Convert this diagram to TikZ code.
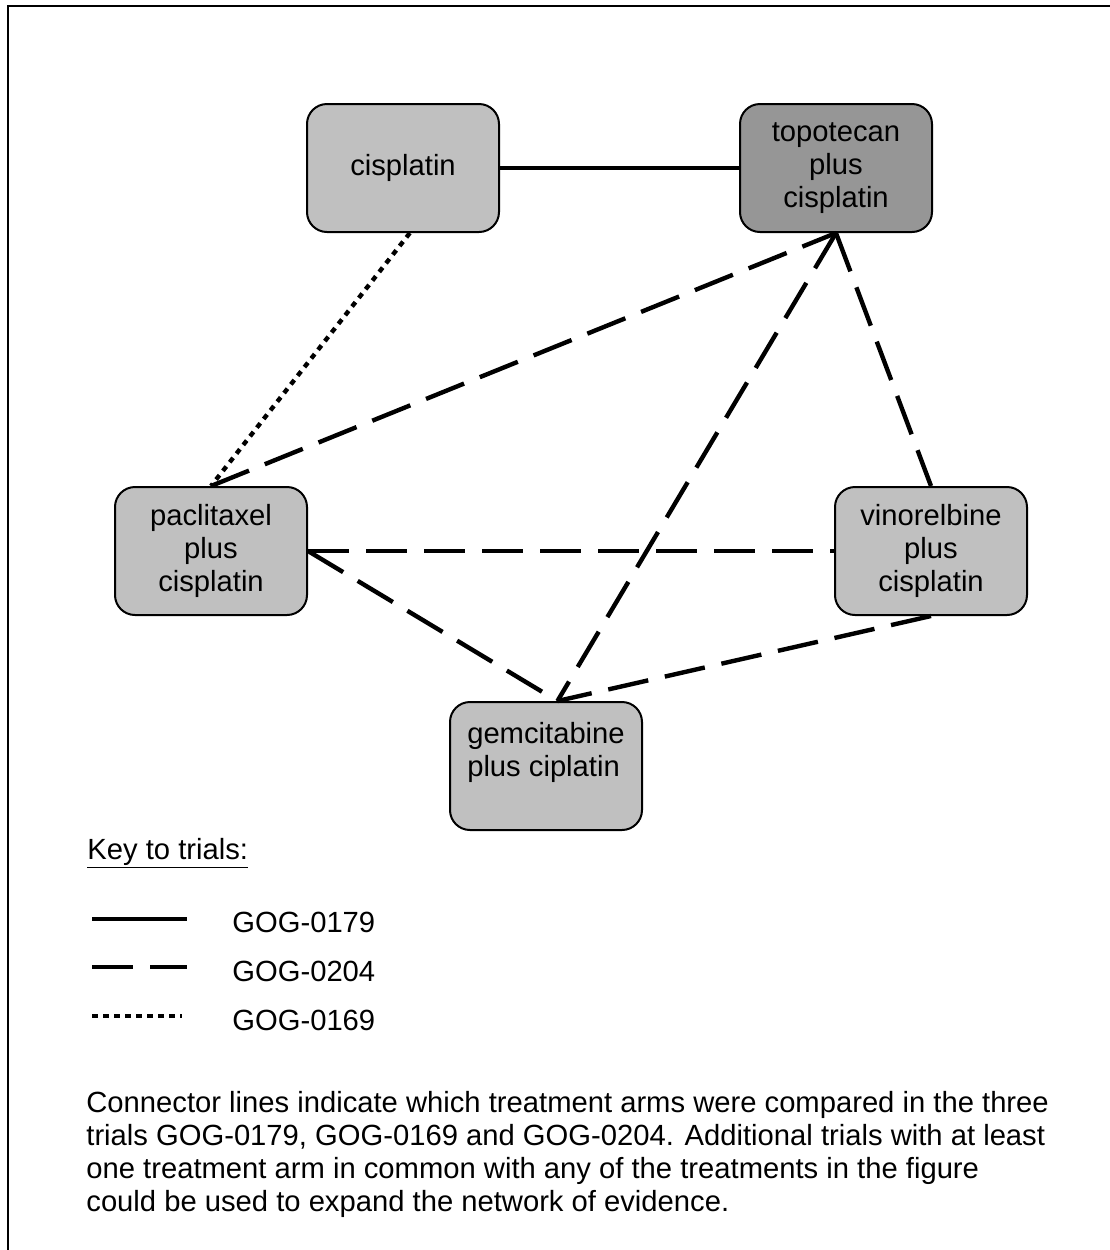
\documentclass[tikz,border=0pt]{standalone}
\usepackage{fontspec}
\setmainfont{Liberation Sans}
\definecolor{armgray}{RGB}{192,192,192}
\definecolor{armdark}{RGB}{150,150,150}
\newcommand{\armfont}{\fontsize{14.6}{16.5}\selectfont}

\begin{document}
\begin{tikzpicture}[
x=0.5pt, y=-0.5pt,
arm/.style={draw, line width=1pt, fill=armgray, rounded corners=10pt, minimum width=96pt, minimum height=64pt, align=center, font=\armfont},
gog179/.style={line width=2.2pt},
gog204/.style={line width=2.2pt, dash pattern=on 20.5pt off 8.5pt},
gog169/.style={line width=2.2pt, dash pattern=on 2.75pt off 2.75pt},
keytext/.style={font=\armfont, inner sep=0pt}
]

\useasboundingbox (0,0) rectangle (1110,1250);
\draw[line width=1pt] (1110,6) -- (8,6) -- (8,1250);

% treatment arms
\node[arm] (cis) at (403,168) {cisplatin};
\node[arm, fill=armdark] (topo) at (836,168) {topotecan\\plus\\cisplatin};
\node[arm] (pacli) at (211,551) {paclitaxel\\plus\\cisplatin};
\node[arm] (vino) at (931,551) {vinorelbine\\plus\\cisplatin};
\node[arm, align=left] (gem) at (546,766) {gemcitabine\\plus ciplatin\\\mbox{}};

% trials
\draw[gog179] (cis) -- (topo);
\draw[gog169] (cis.-84) -- (pacli.north);

\draw[gog204] (pacli.north) -- (topo.south);
\draw[gog204] (topo.south) -- (vino.north);
\draw[gog204] (topo.south) -- (gem.80);
\draw[gog204] (pacli.east) -- (vino.west);
\draw[gog204] (pacli.east) -- (gem.80);
\draw[gog204] (vino.south) -- (gem.80);

% key
\node[keytext, anchor=base west] (key) at (87,859) {\underline{Key to trials:}};

\coordinate (k1a) at (92,919);
\coordinate (k1b) at (187,919);
\coordinate (k2a) at (92,967);
\coordinate (k2b) at (187,967);
\coordinate (k3a) at (92,1016);
\coordinate (k3b) at (182,1016);

\draw[gog179] (k1a) -- (k1b);
\draw[gog204] (k2a) -- (k2b);
\draw[gog169] (k3a) -- (k3b);

\node[keytext, anchor=base west] (t179) at (232,932) {GOG-0179};
\node[keytext, anchor=base west] (t204) at (232,981) {GOG-0204};
\node[keytext, anchor=base west] (t169) at (232,1030) {GOG-0169};

\node[keytext, anchor=north west, align=left] (note) at (86,1091) {Connector lines indicate which treatment arms were compared in the three\\
trials GOG-0179, GOG-0169 and GOG-0204. Additional trials with at least\\
one treatment arm in common with any of the treatments in the figure\\
could be used to expand the network of evidence.};
\end{tikzpicture}
\end{document}
